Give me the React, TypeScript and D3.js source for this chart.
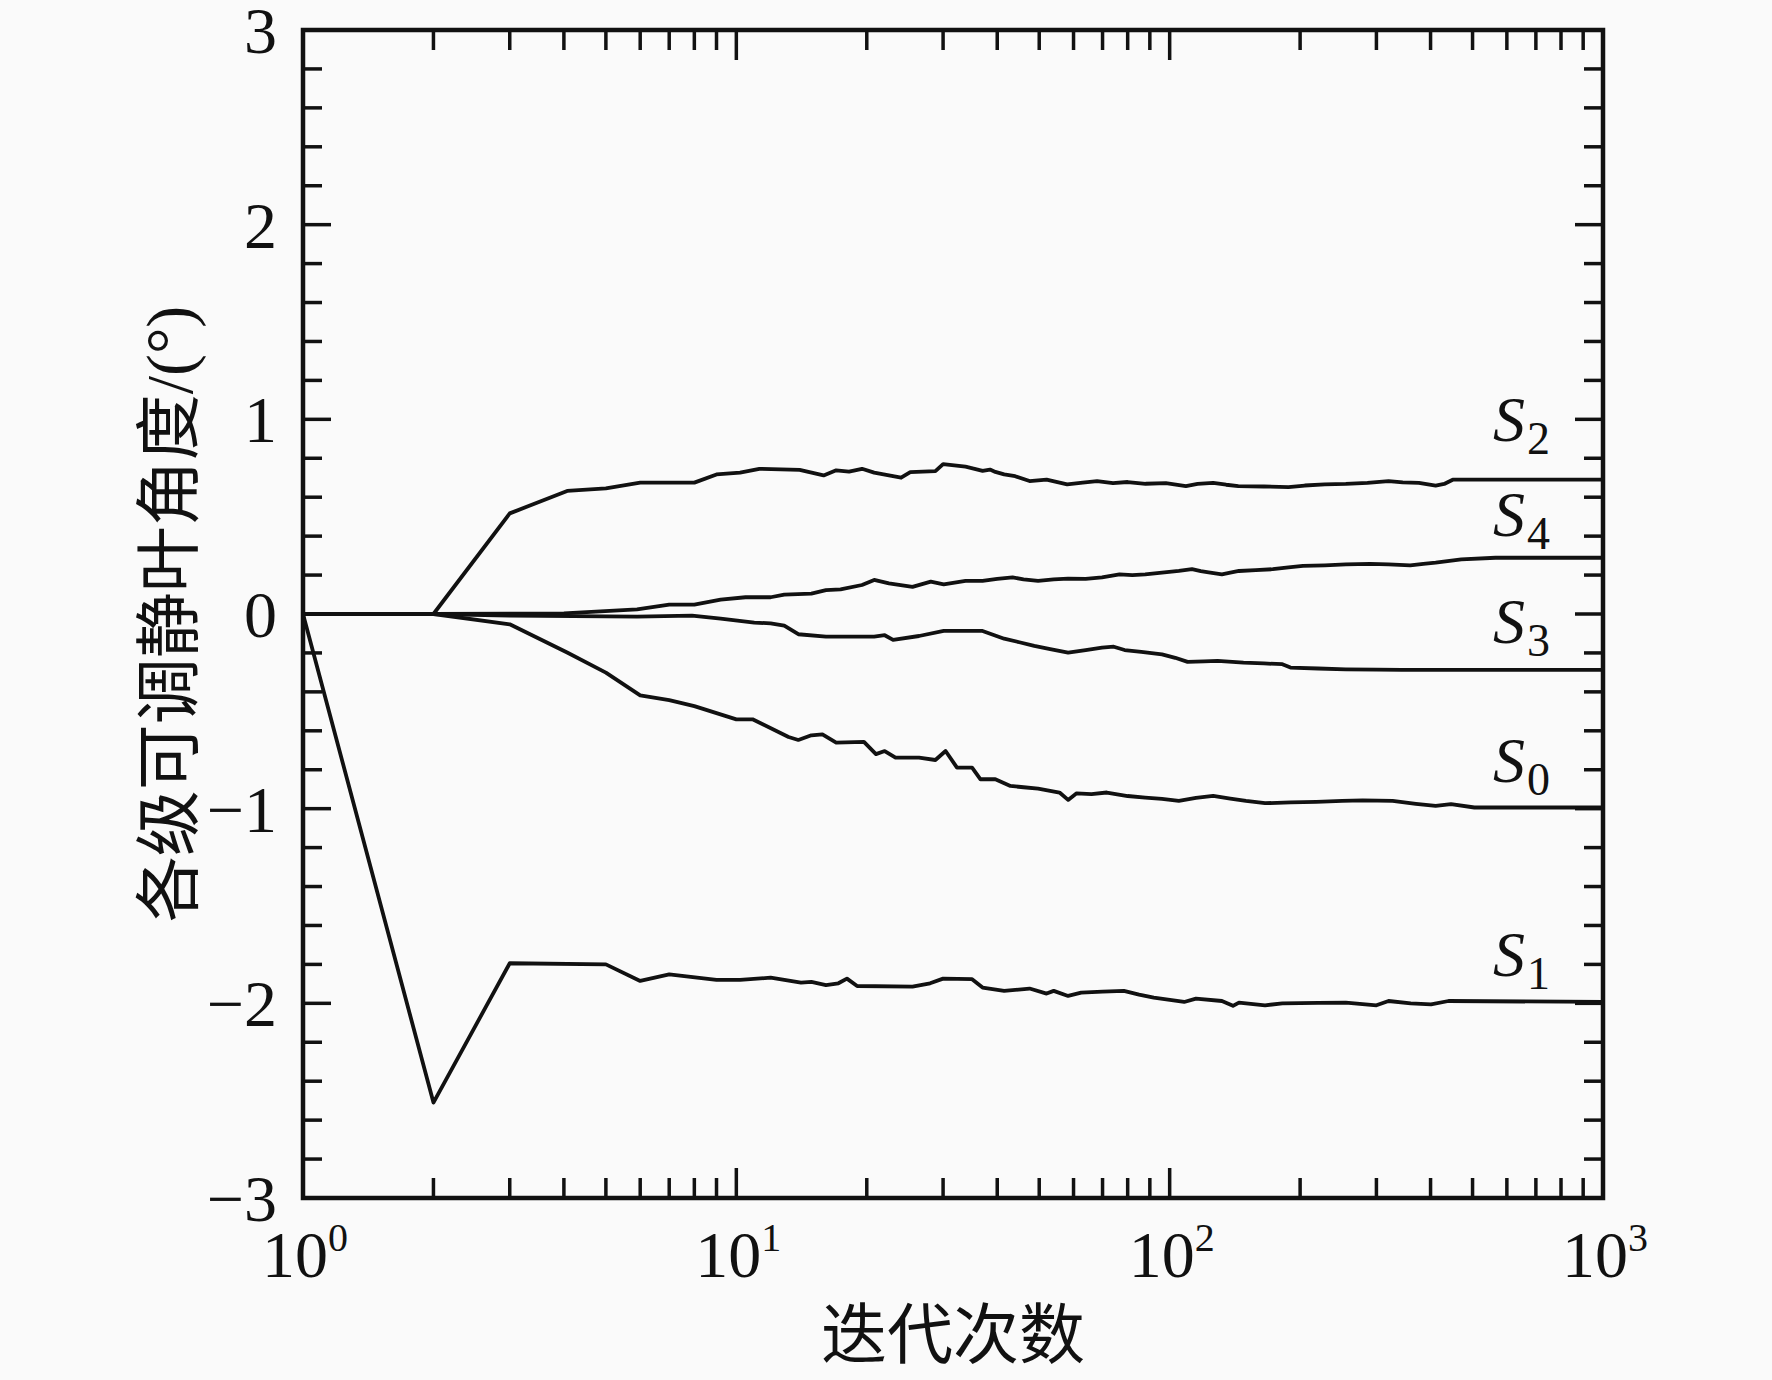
import * as d3 from "d3";
import React from "react";

type Pt = [number, number]; // [iteration, angle in degrees]

const WIDTH = 1772;
const HEIGHT = 1380;
const margin = { top: 30, right: 169, bottom: 182, left: 303 };

// values, iterations on a log axis
const S2: Pt[] = [
  [1, 0], [2, 0], [3, 0.517], [4.07, 0.632], [5, 0.645], [6, 0.675], [8, 0.675], [9, 0.717],
  [10.2, 0.726], [11.3, 0.746], [14, 0.74], [15.9, 0.712], [17, 0.738], [18.2, 0.731], [19.5, 0.746],
  [20.8, 0.726], [24, 0.7], [25.2, 0.729], [28.8, 0.734], [30, 0.77], [33.8, 0.757], [37, 0.735],
  [38.5, 0.742], [39.6, 0.73], [41.5, 0.717], [44, 0.708], [47.5, 0.683], [52, 0.69], [58, 0.666],
  [63, 0.675], [68, 0.683], [74, 0.672], [80, 0.678], [88, 0.669], [98, 0.672], [109, 0.657],
  [116, 0.668], [126, 0.674], [135, 0.664], [144, 0.657], [165, 0.655], [188, 0.652], [205, 0.66],
  [228, 0.666], [255, 0.668], [286, 0.674], [320, 0.683], [345, 0.676], [376, 0.674], [411, 0.66],
  [430, 0.668], [450, 0.69], [1000, 0.69],
];

const S4: Pt[] = [
  [1, 0], [2, 0], [4, 0.003], [5.9, 0.024], [7, 0.048], [8, 0.048], [9.2, 0.074], [10.5, 0.086],
  [12, 0.086], [12.9, 0.1], [14.9, 0.105], [16.1, 0.123], [17.4, 0.126], [19.5, 0.149], [20.8, 0.175],
  [22.5, 0.157], [25.5, 0.139], [28.1, 0.166], [30.1, 0.152], [33.8, 0.17], [37, 0.17], [40, 0.18],
  [43.4, 0.188], [46, 0.178], [49.7, 0.17], [54, 0.178], [58.3, 0.182], [64, 0.18], [69.8, 0.188],
  [76.6, 0.204], [82, 0.2], [87.8, 0.204], [96, 0.212], [105, 0.221], [112.6, 0.23], [118, 0.22],
  [123, 0.214], [132, 0.204], [138, 0.212], [144.5, 0.221], [158, 0.225], [173, 0.23], [188, 0.24],
  [203, 0.247], [228, 0.25], [255, 0.255], [290, 0.258], [320, 0.255], [359, 0.25], [385, 0.258],
  [411, 0.264], [471, 0.281], [565, 0.289], [1000, 0.289],
];

const S3: Pt[] = [
  [1, 0], [2, 0], [3, -0.008], [5.9, -0.013], [7.9, -0.008], [9.2, -0.024], [11, -0.044], [12, -0.048],
  [12.9, -0.06], [13.9, -0.104], [16.1, -0.116], [20.8, -0.116], [22, -0.109], [23, -0.133],
  [26.4, -0.113], [30.1, -0.087], [33, -0.087], [37, -0.087], [41.5, -0.127], [45, -0.145],
  [48.7, -0.164], [53, -0.18], [58.3, -0.198], [64, -0.185], [69.8, -0.173], [74.3, -0.168],
  [78.7, -0.185], [86, -0.195], [96, -0.207], [103, -0.225], [110, -0.246], [120, -0.243],
  [129, -0.241], [148, -0.25], [165, -0.254], [182, -0.258], [190, -0.275], [220, -0.28],
  [255, -0.284], [300, -0.286], [343, -0.287], [1000, -0.287],
];

const S0: Pt[] = [
  [1, 0], [2, 0], [3, -0.053], [4.07, -0.198], [5, -0.301], [6, -0.418], [7, -0.442], [8, -0.473],
  [10, -0.541], [10.9, -0.541], [13.2, -0.632], [13.9, -0.647], [14.9, -0.623], [15.8, -0.618],
  [17, -0.661], [19.7, -0.657], [21, -0.72], [22, -0.704], [23.3, -0.738], [26.4, -0.738],
  [28.8, -0.75], [30.4, -0.704], [32.3, -0.789], [35, -0.789], [36.6, -0.849], [39.6, -0.849],
  [42.9, -0.883], [46, -0.89], [49.7, -0.897], [55.7, -0.917], [58.3, -0.955], [61, -0.921],
  [66, -0.925], [71.6, -0.917], [80, -0.935], [87.8, -0.943], [96, -0.95], [105, -0.96],
  [115, -0.945], [126, -0.934], [138, -0.948], [150, -0.96], [166, -0.972], [190, -0.968],
  [218, -0.965], [250, -0.96], [279, -0.957], [327, -0.96], [370, -0.975], [411, -0.986],
  [446, -0.977], [505, -0.994], [1000, -0.994],
];

const S1: Pt[] = [
  [1, 0], [2, -2.51], [3, -1.794], [5, -1.8], [6, -1.885], [7, -1.851], [9, -1.88], [10.2, -1.88],
  [12, -1.868], [14.1, -1.894], [14.9, -1.89], [16.1, -1.906], [17.2, -1.897], [18, -1.873],
  [19, -1.911], [25.5, -1.914], [28, -1.897], [30, -1.873], [35, -1.876], [37, -1.919],
  [41.5, -1.936], [47.5, -1.924], [52, -1.95], [54, -1.936], [58.3, -1.962], [62.5, -1.945],
  [70, -1.94], [78.4, -1.936], [85, -1.955], [91.9, -1.971], [108, -1.993], [115, -1.976],
  [132, -1.988], [140, -2.013], [144.5, -1.996], [166, -2.01], [182, -2.0], [220, -1.998],
  [255, -1.996], [300, -2.01], [320, -1.988], [360, -2.0], [401, -2.005], [440, -1.988],
  [1000, -1.993],
];

// curve label: subscript and the angle where its baseline sits
const SERIES = [
  { data: S2, sub: "2", labelAt: 0.887 },
  { data: S4, sub: "4", labelAt: 0.399 },
  { data: S3, sub: "3", labelAt: -0.147 },
  { data: S0, sub: "0", labelAt: -0.861 },
  { data: S1, sub: "1", labelAt: -1.86 },
];

const X_MAJOR = [1, 10, 100, 1000];
const X_EXPONENTS = ["0", "1", "2", "3"];
const Y_MAJOR = [-3, -2, -1, 0, 1, 2, 3];

const X_TITLE = "迭代次数";
const Y_TITLE = "各级可调静叶角度/(°)";

const serif = "'Liberation Serif', 'Times New Roman', 'Noto Sans CJK SC', serif";

export default function App() {
  const x = d3.scaleLog().domain([1, 1000]).range([margin.left, WIDTH - margin.right]);
  const y = d3.scaleLinear().domain([-3, 3]).range([HEIGHT - margin.bottom, margin.top]);
  const line = d3
    .line<Pt>()
    .x((d) => x(d[0]))
    .y((d) => y(d[1]));

  const x0 = margin.left;
  const x1 = WIDTH - margin.right;
  const yTop = margin.top;
  const yBot = HEIGHT - margin.bottom;

  const xTicks = x.ticks().map((t) => ({ t, major: X_MAJOR.includes(t) }));
  const yTicks = d3.range(-15, 16).map((k) => ({ v: k / 5, major: k % 5 === 0 }));

  const tickW = 3.5;

  return (
    <svg
      width={WIDTH}
      height={HEIGHT}
      style={{ position: "absolute", left: 0, top: 0, display: "block", background: "#fafafa" }}
    >
      <rect width={WIDTH} height={HEIGHT} fill="#fafafa" />

      {/* curves */}
      <g fill="none" stroke="#111" strokeWidth={3.8} strokeLinejoin="round" strokeLinecap="round">
        {SERIES.map((s) => (
          <path key={s.sub} d={line(s.data) ?? ""} />
        ))}
      </g>

      {/* ticks on all four sides, pointing inward */}
      <g stroke="#111" strokeWidth={tickW}>
        {xTicks.map(({ t, major }) => {
          const len = major ? 30 : 20;
          return (
            <g key={`x${t}`}>
              <line x1={x(t)} x2={x(t)} y1={yBot} y2={yBot - len} />
              <line x1={x(t)} x2={x(t)} y1={yTop} y2={yTop + len} />
            </g>
          );
        })}
        {yTicks.map(({ v, major }) => {
          const len = major ? 28 : 19;
          return (
            <g key={`y${v}`}>
              <line x1={x0} x2={x0 + len} y1={y(v)} y2={y(v)} />
              <line x1={x1} x2={x1 - len} y1={y(v)} y2={y(v)} />
            </g>
          );
        })}
      </g>

      <rect x={x0} y={yTop} width={x1 - x0} height={yBot - yTop} fill="none" stroke="#111" strokeWidth={4.5} />

      {/* y tick labels */}
      <g fontFamily={serif} fontSize={66} fill="#111" textAnchor="end">
        {Y_MAJOR.map((v) => (
          <text key={v} x={x0 - 26} y={y(v) + 23}>
            {v < 0 ? `−${Math.abs(v)}` : `${v}`}
          </text>
        ))}
      </g>

      {/* x tick labels, 10^n */}
      <g fontFamily={serif} fill="#111" textAnchor="middle">
        {X_MAJOR.map((t, i) => (
          <text key={t} x={x(t) + 2} y={yBot + 79} fontSize={66}>
            <tspan>10</tspan>
            <tspan fontSize={40} dy={-26}>
              {X_EXPONENTS[i]}
            </tspan>
          </text>
        ))}
      </g>

      {/* curve labels */}
      <g fontFamily={serif} fill="#111">
        {SERIES.map((s) => (
          <text key={s.sub} x={x(1000) - 110} y={y(s.labelAt)}>
            <tspan fontSize={64} fontStyle="italic">
              S
            </tspan>
            <tspan fontSize={46} dx={2} dy={13}>
              {s.sub}
            </tspan>
          </text>
        ))}
      </g>

      {/* axis titles */}
      <text x={(x0 + x1) / 2} y={1358} fontFamily={serif} fontSize={66} fill="#111" textAnchor="middle">
        {X_TITLE}
      </text>
      <text
        transform={`translate(192, ${(yTop + yBot) / 2}) rotate(-90)`}
        fontFamily={serif}
        fontSize={66}
        fill="#111"
        textAnchor="middle"
      >
        {Y_TITLE}
      </text>
    </svg>
  );
}
